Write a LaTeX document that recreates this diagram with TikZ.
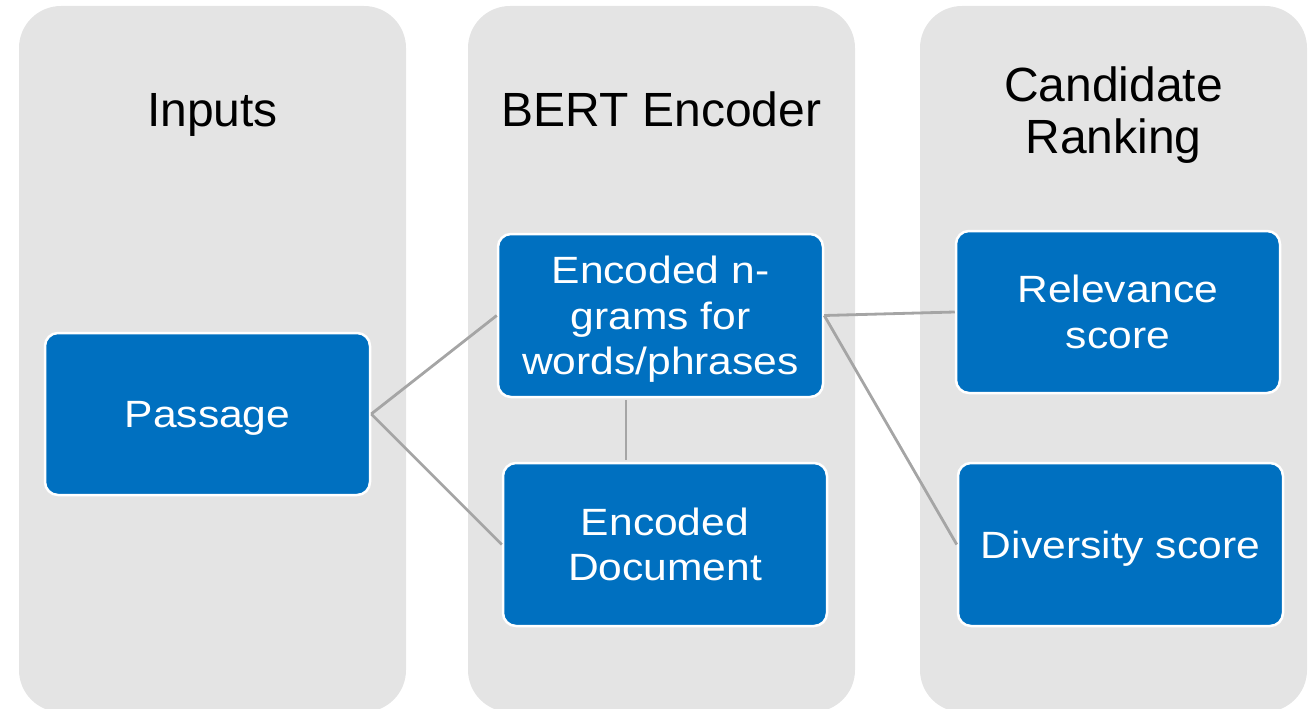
\documentclass[tikz,border=0pt]{standalone}
\usepackage{fontspec}
\setmainfont{Liberation Sans}
\newfontfamily\boxfont[FakeStretch=1.12]{Liberation Sans}
\definecolor{colbg}{HTML}{E4E4E4}
\definecolor{boxblue}{HTML}{0070C0}
\definecolor{linkgray}{HTML}{A5A5A5}
\tikzset{
  colshape/.style={fill=colbg, rounded corners=42pt},
  title/.style={text=black, align=center, font=\fontsize{48}{52.3}\selectfont,
    inner sep=0pt, text depth=0pt, text height=34.4pt},
  title2/.style={title, text height=86.7pt},
  bluebox/.style={draw=white, line width=2.5pt, fill=boxblue, rounded corners=13pt,
    text=white, align=center, font=\boxfont\fontsize{38}{45.3}\selectfont,
    minimum width=324pt, minimum height=162pt, inner sep=0pt,
    text depth=0pt, text height=27.2pt},
  lines2/.style={text height=72.5pt},
  lines3/.style={text height=117.8pt},
  link/.style={draw=linkgray, line width=2.8pt}
}
\begin{document}
\begin{tikzpicture}[x=1pt,y=-1pt]
\useasboundingbox (0,0) rectangle (1312,709);
\begin{scope}
\clip (0,0) rectangle (1312,709);
\path[colshape] (19,6) rectangle (406,712);
\path[colshape] (468,6) rectangle (855,712);
\path[colshape] (920,6) rectangle (1307,712);
\end{scope}
\node[title] (tin) at (212.5,109.5) {Inputs};
\node[title] (tbert) at (661.5,109.5) {BERT Encoder};
\node[title2] (tcand) at (1113.5,110.5) {Candidate\\Ranking};

\node[bluebox, minimum width=325pt] (pas) at (207.5,414) {Passage};
\node[bluebox, lines3, minimum width=325pt, minimum height=163pt] (ng) at (660.5,315.5) {Encoded n-\\grams for\\words/phrases};
\node[bluebox, lines2, minimum height=163pt] (doc) at (665,544.5) {Encoded\\Document};
\node[bluebox, lines2] (rel) at (1118,312) {Relevance\\score};
\node[bluebox, minimum width=325pt, minimum height=163pt] (div) at (1120.5,544.5) {Diversity score};

\draw[link] (pas.east) -- (ng.west);
\draw[link] (pas.east) -- (doc.west);
\draw[link] ([xshift=-34.5pt,yshift=-1.5pt]ng.south) -- ([xshift=-39pt,yshift=1.5pt]doc.north);
\draw[link] (ng.east) -- (rel.west);
\draw[link] (ng.east) -- (div.west);
\end{tikzpicture}
\end{document}
